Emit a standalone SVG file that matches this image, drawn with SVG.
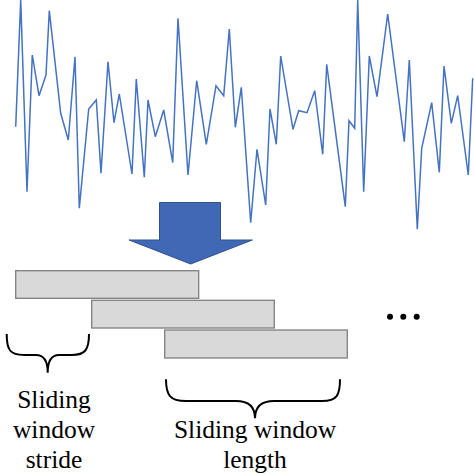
<svg xmlns="http://www.w3.org/2000/svg" width="474" height="474" viewBox="0 0 474 474">
<style>
.sig{fill:none;stroke:#4472C4;stroke-width:1.5;stroke-linejoin:miter}
.bar{fill:#D9D9D9;stroke:#7F7F7F;stroke-width:1.3}
.brace{fill:none;stroke:#000;stroke-width:2}
.lbl{font-family:"Liberation Serif","Times New Roman",serif;font-size:25.5px;fill:#000;text-anchor:middle}
</style>
<rect width="474" height="474" fill="#fff"/>
<g id="signal">
<polyline class="sig" points="15.7,126.7 20.7,0 27,191.7 32.3,55 39,95.7 46,75 49.3,10.7 60.7,113.3 68.3,140 75,56.7 79.3,208.3 88.7,109 96.3,100 101,173.3 108,61.7 114,122.7 119.3,94 132,174 136.3,79 144.3,177.3 148,100 155.3,136.7 163.7,110 172.7,162.7 178,18.3 188,175 196.7,80.7 206.3,144.3 216,85.7 223.7,95.7 229.3,29 235.3,127.3 241.3,87.3 250.7,222.7 257,149.3 265.7,205 270,109 276.3,144.3 280.7,56 293,129.3 298.7,110.7 307,112.7 314.7,90.7 322.7,154.3 326.7,64.3 345.3,206.7 349,120.7 354.7,128.3 357.7,0 363.7,191.7 369.3,56 377,96.7 387.7,14 404.3,141.7 409.3,60 417.3,229.3 421.7,148.3 431.7,102.7 439.3,172.3 444,66 451.3,123.3 457.7,95.7 468.3,175 472.7,78.3"/>
</g>
<g id="arrow">
<polygon points="159.5,202.5 220.5,202.5 220.5,240 252.3,240 190.7,264 129,240 159.5,240" fill="#4068B5" stroke="#2F528F" stroke-width="1"/>
</g>
<g id="window1"><rect class="bar" x="15.7" y="270.7" width="183" height="27.6"/></g>
<g id="window2"><rect class="bar" x="91.7" y="300.3" width="182.6" height="27.7"/></g>
<g id="window3"><rect class="bar" x="164.7" y="330" width="182.6" height="28"/></g>
<g id="ellipsis" fill="#000">
<circle cx="390" cy="316.7" r="3"/>
<circle cx="403.3" cy="316.7" r="3"/>
<circle cx="416.7" cy="316.7" r="3"/>
</g>
<g id="stride">
<path class="brace" d="M6.7,334 C6.7,350 10,355 24,355 L36,355 C44,355 47.7,361 47.7,372.7 C47.7,361 51,355 59,355 L72,355 C85,355 89,350 89,334"/>
<text class="lbl" x="54" y="408">Sliding</text>
<text class="lbl" x="54" y="438">window</text>
<text class="lbl" x="54" y="468">stride</text>
</g>
<g id="length">
<path class="brace" d="M166,379.3 C166,395 170,401 186,401 L236,401 C248,401 255,406 255,418.3 C255,406 262,401 274,401 L322,401 C337,401 340,395 340,379.3"/>
<text class="lbl" x="255" y="438">Sliding window</text>
<text class="lbl" x="255" y="468">length</text>
</g>
</svg>
